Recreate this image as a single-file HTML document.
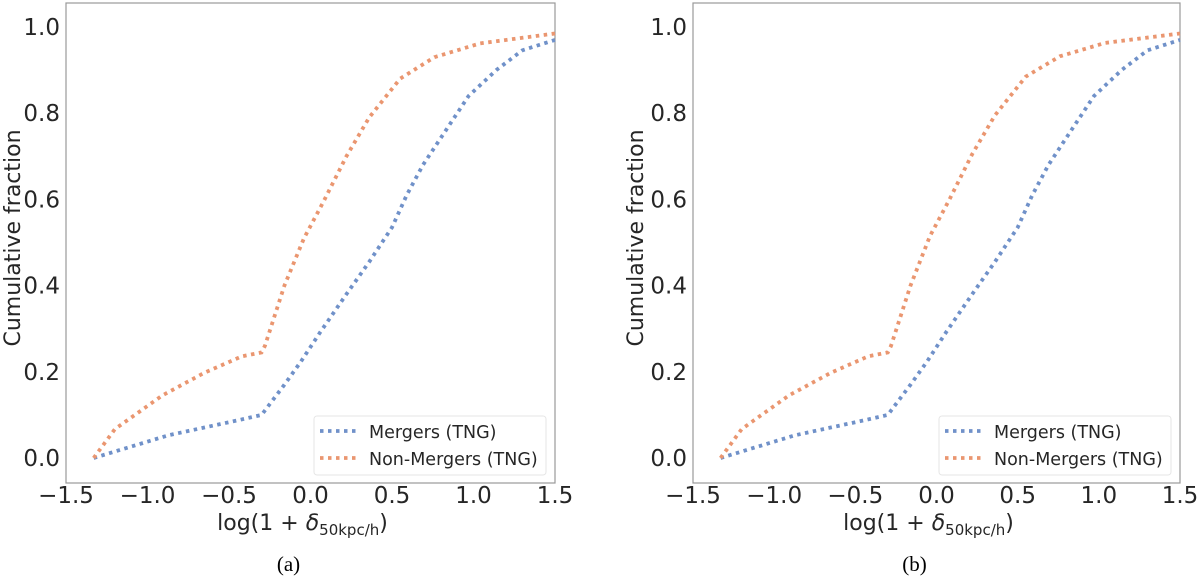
<!DOCTYPE html>
<html><head><meta charset="utf-8"><style>
body{margin:0;background:#fff;width:1200px;height:579px;overflow:hidden}
svg{display:block;font-family:"DejaVu Sans","Liberation Sans",sans-serif}
</style></head><body>
<svg id="fig" width="1200" height="579"></svg>
<script>
const xTicks=[-1.5,-1.0,-0.5,0.0,0.5,1.0,1.5];
const yTicks=[0.0,0.2,0.4,0.6,0.8,1.0];
const mergersX=[-1.33,-1.2,-0.87,-0.44,-0.3,-0.16,-0.06,0.06,0.22,0.36,0.5,0.59,0.69,0.83,0.97,1.14,1.3,1.5];
const mergersA=[0,0.015,0.053,0.088,0.1,0.17,0.223,0.292,0.38,0.455,0.535,0.61,0.68,0.76,0.84,0.9,0.946,0.97];
const mergersB=[0,0.015,0.053,0.088,0.1,0.17,0.223,0.292,0.38,0.455,0.535,0.61,0.68,0.76,0.84,0.9,0.946,0.97];
const nonX=[-1.33,-1.2,-0.91,-0.65,-0.42,-0.3,-0.28,-0.16,-0.04,0.08,0.22,0.36,0.55,0.76,1.04,1.5];
const nonA=[0,0.067,0.145,0.198,0.236,0.245,0.26,0.4,0.51,0.595,0.7,0.79,0.88,0.93,0.962,0.985];
const nonB=[0,0.067,0.145,0.198,0.236,0.245,0.26,0.4,0.515,0.6,0.705,0.795,0.885,0.932,0.963,0.985];
const NS='http://www.w3.org/2000/svg';
const svg=document.getElementById('fig');
function mk(tag,attrs,parent,text){const e=document.createElementNS(NS,tag);for(const k in attrs)e.setAttribute(k,attrs[k]);if(text!==undefined)e.textContent=text;(parent||svg).appendChild(e);return e;}
function panel(id,L,R,mY,nY,cap,ylabX){
  const T=3,B=483;
  const sx=v=>L+(v+1.5)/3*(R-L);
  const sy=v=>458-v*431;
  const g=mk('g',{});
  
  
  const frame=mk('rect',{x:L,y:T,width:R-L,height:B-T,fill:'none',stroke:'#999','stroke-width':1.2},g);
  
  
  xTicks.forEach(t=>{const e=mk('text',{x:sx(t),y:503,'font-size':23,fill:'#262626','text-anchor':'middle'},g,(t<0?'\u2212':'')+Math.abs(t).toFixed(1));
    
    });
  yTicks.forEach(t=>{const e=mk('text',{x:L-6,y:sy(t)+8,'font-size':23,fill:'#262626','text-anchor':'end'},g,t.toFixed(1));
    
    });
  const xl=mk('text',{x:(L+R)/2-8,y:530,'font-size':22,fill:'#262626','text-anchor':'middle'},g);
  xl.innerHTML='log(1 + <tspan font-style="italic">δ</tspan><tspan font-size="15" dy="5">50kpc/h</tspan><tspan dy="-5">)</tspan>';
  
  
  const yl=mk('text',{x:0,y:0,'font-size':22,fill:'#262626','text-anchor':'middle',transform:`translate(${ylabX},${(T+B)/2-5}) rotate(-90)`},g,'Cumulative fraction');
  
  
  const path=(xs,ys)=>xs.map((x,i)=>(i?'L':'M')+sx(x).toFixed(1)+','+sy(ys[i]).toFixed(1)).join('');
  const pb=mk('path',{d:path(mergersX,mY),fill:'none',stroke:'#7091c9','stroke-width':3.8,'stroke-dasharray':'3.5 4.5'},g);
  
  
  const po=mk('path',{d:path(nonX,nY),fill:'none',stroke:'#ea9670','stroke-width':3.8,'stroke-dasharray':'3.5 4.5'},g);
  
  
  const lx=R-241,ly=416;
  const lg=mk('g',{},g);
  
  
  mk('rect',{x:lx,y:ly,width:232,height:59,rx:3,fill:'#fff',stroke:'#e6e6e6'},lg);
  mk('line',{x1:lx+6,y1:ly+15,x2:lx+42,y2:ly+15,stroke:'#7091c9','stroke-width':3.8,'stroke-dasharray':'3.5 4.5'},lg);
  mk('line',{x1:lx+6,y1:ly+42,x2:lx+42,y2:ly+42,stroke:'#ea9670','stroke-width':3.8,'stroke-dasharray':'3.5 4.5'},lg);
  const t1=mk('text',{x:lx+55,y:ly+22,'font-size':17.5,fill:'#262626'},lg,'Mergers (TNG)');
  
  
  const t2=mk('text',{x:lx+55,y:ly+49,'font-size':17.5,fill:'#262626'},lg,'Non-Mergers (TNG)');
  
  
  const c=mk('text',{x:(L+R)/2-22,y:571,'font-size':21,fill:'#000','text-anchor':'middle','font-family':'Liberation Serif, serif'},g,cap);
  
  
}
panel('a',66,555,mergersA,nonA,'(a)',20);
panel('b',693,1180,mergersB,nonB,'(b)',643);
</script>
</body></html>
